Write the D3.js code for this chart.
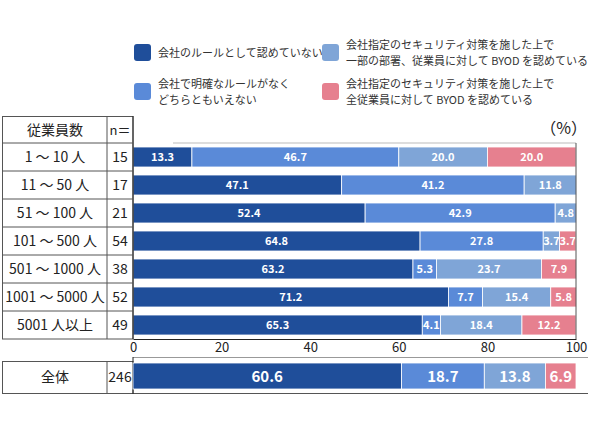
<!DOCTYPE html>
<html><head><meta charset="utf-8">
<script src="https://cdn.jsdelivr.net/npm/d3@7"></script>
<style>body{margin:0;background:#fff}svg{display:block}</style>
</head><body>
<svg id="c" width="590" height="435"></svg>
<script>
const categories = ["1 ～ 10 人","11 ～ 50 人","51 ～ 100 人","101 ～ 500 人","501 ～ 1000 人","1001 ～ 5000 人","5001 人以上"];
const nValues = [15,17,21,54,38,52,49];
const seriesNames = ["会社のルールとして認めていない","会社で明確なルールがなく\nどちらともいえない","会社指定のセキュリティ対策を施した上で\n一部の部署、従業員に対して BYOD を認めている","会社指定のセキュリティ対策を施した上で\n全従業員に対して BYOD を認めている"];
const notAllowed = [13.3,47.1,52.4,64.8,63.2,71.2,65.3];
const unclear = [46.7,41.2,42.9,27.8,5.3,7.7,4.1];
const partial = [20.0,11.8,4.8,3.7,23.7,15.4,18.4];
const allStaff = [20.0,0,0,3.7,7.9,5.8,12.2];
const totalLabel = "全体";
const totalN = 246;
const totalValues = [60.6,18.7,13.8,6.9];
const xTicks = [0,20,40,60,80,100];
const colors = ["#1f4e9a","#5a8ad8","#7fa5d7","#e6808f"];

const svg = d3.select("#c");
const font = "'Noto Sans CJK JP','Noto Sans',sans-serif";
svg.style("font-family", font);

const x = d3.scaleLinear().domain([0,100]).range([133,576]);
const y = d3.scaleBand().domain(categories).range([143,339]).paddingInner(0.286).paddingOuter(0.143);

// legend
const legPos = [[134,44],[134,83],[322,44],[322,83]];
seriesNames.forEach((s,i)=>{
  const [lx,ly] = legPos[i];
  svg.append("rect").attr("x",lx).attr("y",ly).attr("width",17).attr("height",17).attr("rx",3).attr("fill",colors[i]);
  const lines = s.split("\n");
  const t = svg.append("text").attr("font-size",11).attr("fill","#333");
  const cy = ly+8.5;
  const start = lines.length===1 ? cy+4 : cy-4;
  lines.forEach((l,j)=>t.append("tspan").attr("x",lx+24).attr("y",start+j*16).text(l));
});

svg.append("text").attr("x",587).attr("y",134).attr("text-anchor","end").attr("font-size",16).attr("fill","#222").text("（%）");

// stacked data
const rows = categories.map((c,i)=>({cat:c, vals:[notAllowed[i],unclear[i],partial[i],allStaff[i]]}));

const g = svg.append("g");
rows.forEach(r=>{
  let acc=0;
  r.vals.forEach((v,k)=>{
    if(v<=0) return;
    const x0 = x(acc), x1 = x(acc+v);
    g.append("rect").attr("x",x0).attr("y",y(r.cat)).attr("width",x1-x0).attr("height",y.bandwidth()).attr("fill",colors[k]).attr("stroke","#fff").attr("stroke-width",0.8);
    g.append("text").attr("x",(x0+x1)/2).attr("y",y(r.cat)+y.bandwidth()/2+4).attr("text-anchor","middle").attr("font-size",11).attr("font-weight","bold").attr("fill","#fff").text(v.toFixed(1));
    acc+=v;
  });
});

// plot frame
svg.append("line").attr("x1",173).attr("x2",576).attr("y1",143).attr("y2",143).attr("stroke","#bbb");
svg.append("line").attr("x1",576).attr("x2",576).attr("y1",143).attr("y2",339).attr("stroke","#555");

// axis
const ax = svg.append("g").attr("transform","translate(0,339)").call(d3.axisBottom(x).tickValues(xTicks).tickSize(0).tickPadding(4));
ax.select(".domain").attr("stroke","#222");
ax.selectAll("text").attr("font-size",13).attr("fill","#222").attr("font-family",font);

// table
const tbl = svg.append("g").attr("fill","none").attr("stroke","#555");
tbl.append("rect").attr("x",2.5).attr("y",116.5).attr("width",130.5).attr("height",222.5);
tbl.append("line").attr("x1",107).attr("x2",107).attr("y1",116).attr("y2",339);
tbl.append("line").attr("x1",133).attr("x2",133).attr("y1",116).attr("y2",339).attr("stroke","#222");
tbl.append("line").attr("x1",2).attr("x2",133).attr("y1",143).attr("y2",143);
categories.forEach((c,i)=>{
  if(i>0){
    const yy = y(c) - (y.step()-y.bandwidth())/2;
    tbl.append("line").attr("x1",2).attr("x2",133).attr("y1",yy).attr("y2",yy);
  }
});
svg.append("text").attr("x",55).attr("y",135).attr("text-anchor","middle").attr("font-size",14).attr("fill","#222").text("従業員数");
svg.append("text").attr("x",120).attr("y",135).attr("text-anchor","middle").attr("font-size",13).attr("fill","#222").text("n＝");
categories.forEach((c,i)=>{
  const cy = y(c)+y.bandwidth()/2+5;
  svg.append("text").attr("x",55).attr("y",cy).attr("text-anchor","middle").attr("font-size",14).attr("fill","#222").text(c);
  svg.append("text").attr("x",120).attr("y",cy).attr("text-anchor","middle").attr("font-size",14).attr("fill","#222").text(nValues[i]);
});

// total row
const ty0 = 361, ty1 = 393;
svg.append("rect").attr("x",2.5).attr("y",ty0+0.5).attr("width",130.5).attr("height",ty1-ty0).attr("fill","none").attr("stroke","#555");
svg.append("line").attr("x1",107).attr("x2",107).attr("y1",ty0).attr("y2",ty1).attr("stroke","#555");
svg.append("line").attr("x1",133).attr("x2",588).attr("y1",357.5).attr("y2",357.5).attr("stroke","#999");
svg.append("line").attr("x1",133).attr("x2",588).attr("y1",393.5).attr("y2",393.5).attr("stroke","#555");
svg.append("line").attr("x1",133).attr("x2",133).attr("y1",357).attr("y2",394).attr("stroke","#222");
svg.append("text").attr("x",55).attr("y",382).attr("text-anchor","middle").attr("font-size",14).attr("fill","#222").text(totalLabel);
svg.append("text").attr("x",120).attr("y",382).attr("text-anchor","middle").attr("font-size",14).attr("fill","#222").text(totalN);
let acc=0;
totalValues.forEach((v,k)=>{
  const x0=x(acc), x1=x(acc+v);
  svg.append("rect").attr("x",x0).attr("y",363).attr("width",x1-x0).attr("height",26).attr("fill",colors[k]).attr("stroke","#fff").attr("stroke-width",0.8);
  svg.append("text").attr("x",(x0+x1)/2).attr("y",382).attr("text-anchor","middle").attr("font-size",15).attr("font-weight","bold").attr("fill","#fff").text(v.toFixed(1));
  acc+=v;
});
</script>
</body></html>
